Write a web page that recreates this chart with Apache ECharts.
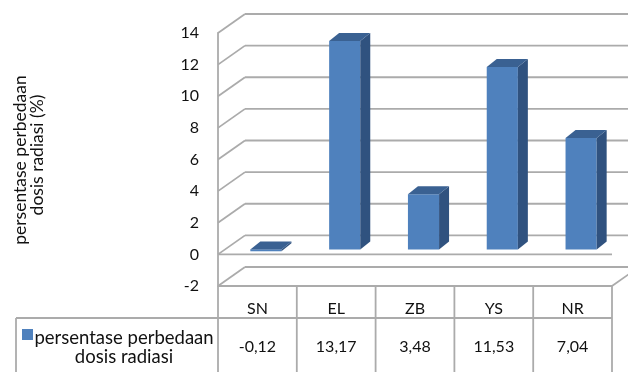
<!DOCTYPE html>
<html><head><meta charset="utf-8">
<script src="https://cdn.jsdelivr.net/npm/echarts@6/dist/echarts.min.js"></script>
<style>html,body{margin:0;padding:0;background:#fff}#c{width:628px;height:372px}</style>
</head><body><div id="c"></div>
<script>
// ---- data ----
const categories = ['SN', 'EL', 'ZB', 'YS', 'NR'];
const values = [-0.12, 13.17, 3.48, 11.53, 7.04];
const yTicks = [-2, 0, 2, 4, 6, 8, 10, 12, 14];
const seriesLabel = ['persentase perbedaan', 'dosis radiasi'];
const axisTitle = ['persentase perbedaan', 'dosis radiasi (%)'];

// ---- style / layout ----
const FONT = 'Lato';
const GRID = '#ababab';
const DEPTH = [27, -19];
const BAR_OFF = [8.5, -5];
const BAR_D = [10, -8];
const TABLE_LEFT = 16;
const fmt = v => v.toFixed(2).replace('.', ',');

const mctx = document.createElement('canvas').getContext('2d');
function tw(text, size) { mctx.font = size + 'px ' + FONT; return mctx.measureText(text).width; }

const chart = echarts.init(document.getElementById('c'), null, {renderer: 'canvas'});

function line(x1, y1, x2, y2) {
  return {type: 'line', shape: {x1, y1, x2, y2}, style: {stroke: GRID, lineWidth: 1.8}, silent: true};
}
function txt(text, cx, y, size) {
  return {type: 'text', style: {text, x: cx - tw(text, size) / 2, y, fill: '#111', font: size + 'px ' + FONT,
    align: 'left', verticalAlign: 'middle'}, silent: true};
}
function rotTitle(text, cx, cy, size) {
  return {type: 'text', x: cx, y: cy, rotation: Math.PI / 2, silent: true,
    style: {text, x: -tw(text, size) / 2, y: 0, fill: '#111', font: size + 'px ' + FONT,
      align: 'left', verticalAlign: 'middle'}};
}

const option = {
  animation: false,
  backgroundColor: '#fff',
  grid: {left: 218, right: 16, top: 33, bottom: 86},
  graphic: [rotTitle(axisTitle[0], 20, 160, 17.5), rotTitle(axisTitle[1], 37, 155, 17.5)],
  xAxis: {type: 'category', data: categories, axisLine: {show: false}, axisTick: {show: false},
    axisLabel: {show: false}, splitLine: {show: false}},
  yAxis: {type: 'value', min: -2, max: 14, interval: 2,
    axisLine: {show: true, lineStyle: {color: GRID, width: 1.8}}, axisTick: {show: false},
    splitLine: {show: false},
    axisLabel: {margin: 19, color: '#111', fontSize: 16, fontFamily: FONT}},
  series: [
    { // wall gridlines
      type: 'custom', z: 1, silent: true,
      data: yTicks.map(v => [0, v]),
      renderItem: function (params, api) {
        const cs = params.coordSys;
        const v = api.value(1);
        const y = api.coord([0, v])[1];
        const x0 = cs.x, x1 = cs.x + cs.width;
        const ch = [
          line(x0, y, x0 + DEPTH[0], y + DEPTH[1]),
          line(x0 + DEPTH[0], y + DEPTH[1], api.getWidth(), y + DEPTH[1])
        ];
        if (v === 0) ch.push(line(x0, y, x1, y));
        if (v === yTicks[0]) {
          ch.push(line(x0, y, x1, y));
          ch.push(line(x1, y, x1 + DEPTH[0], y + DEPTH[1]));
        }
        return {type: 'group', children: ch};
      }
    },
    { // 3D bars
      type: 'custom', z: 3, silent: true,
      data: values.map((v, i) => [i, v]),
      renderItem: function (params, api) {
        const i = api.value(0), v = api.value(1);
        const p0 = api.coord([i, 0]), p1 = api.coord([i, v]);
        const bw = api.size([1, 0])[0] * 0.395;
        const xl = p0[0] + BAR_OFF[0] - bw / 2;
        const ya = p0[1] + BAR_OFF[1], yb = p1[1] + BAR_OFF[1];
        const top = Math.min(ya, yb), bot = Math.max(ya, yb);
        const xr = xl + bw;
        return {type: 'group', children: [
          {type: 'rect', shape: {x: xl, y: top, width: bw, height: bot - top}, style: {fill: '#4f81bd'}},
          {type: 'polygon', shape: {points: [[xr, top], [xr + BAR_D[0], top + BAR_D[1]], [xr + BAR_D[0], bot + BAR_D[1]], [xr, bot]]}, style: {fill: '#30527f'}},
          {type: 'polygon', shape: {points: [[xl, top], [xl + BAR_D[0], top + BAR_D[1]], [xr + BAR_D[0], top + BAR_D[1]], [xr, top]]}, style: {fill: '#3a6192'}}
        ]};
      }
    },
    { // data table
      type: 'custom', z: 2, silent: true,
      data: values.map((v, i) => [i, v]),
      renderItem: function (params, api) {
        const i = api.value(0), v = api.value(1);
        const c = api.coord([i, yTicks[0]]);
        const bw = api.size([1, 0])[0];
        const yTop = c[1];
        const yMid = yTop + 32;
        const yBot = api.getHeight() + 2;
        const xl = c[0] - bw / 2, xr = c[0] + bw / 2;
        const ch = [
          line(xl, yTop, xl, yBot),
          line(xl, yMid, xr, yMid),
          txt(categories[i], c[0], yTop + 23, 16),
          txt(fmt(v), c[0], yTop + 61, 16)
        ];
        if (i === categories.length - 1) ch.push(line(xr, yTop, xr, yBot));
        if (i === 0) {
          ch.push(line(TABLE_LEFT, yMid, xl, yMid));
          ch.push(line(TABLE_LEFT, yMid, TABLE_LEFT, yBot));
          ch.push({type: 'rect', shape: {x: 22, y: yTop + 43, width: 11, height: 11}, style: {fill: '#4f81bd'}});
          const cx = (TABLE_LEFT + xl) / 2 + 7;
          ch.push(txt(seriesLabel[0], cx, yTop + 52, 18.5));
          ch.push(txt(seriesLabel[1], cx, yTop + 71, 18.5));
        }
        return {type: 'group', children: ch};
      }
    }
  ]
};
chart.setOption(option);
</script></body></html>
